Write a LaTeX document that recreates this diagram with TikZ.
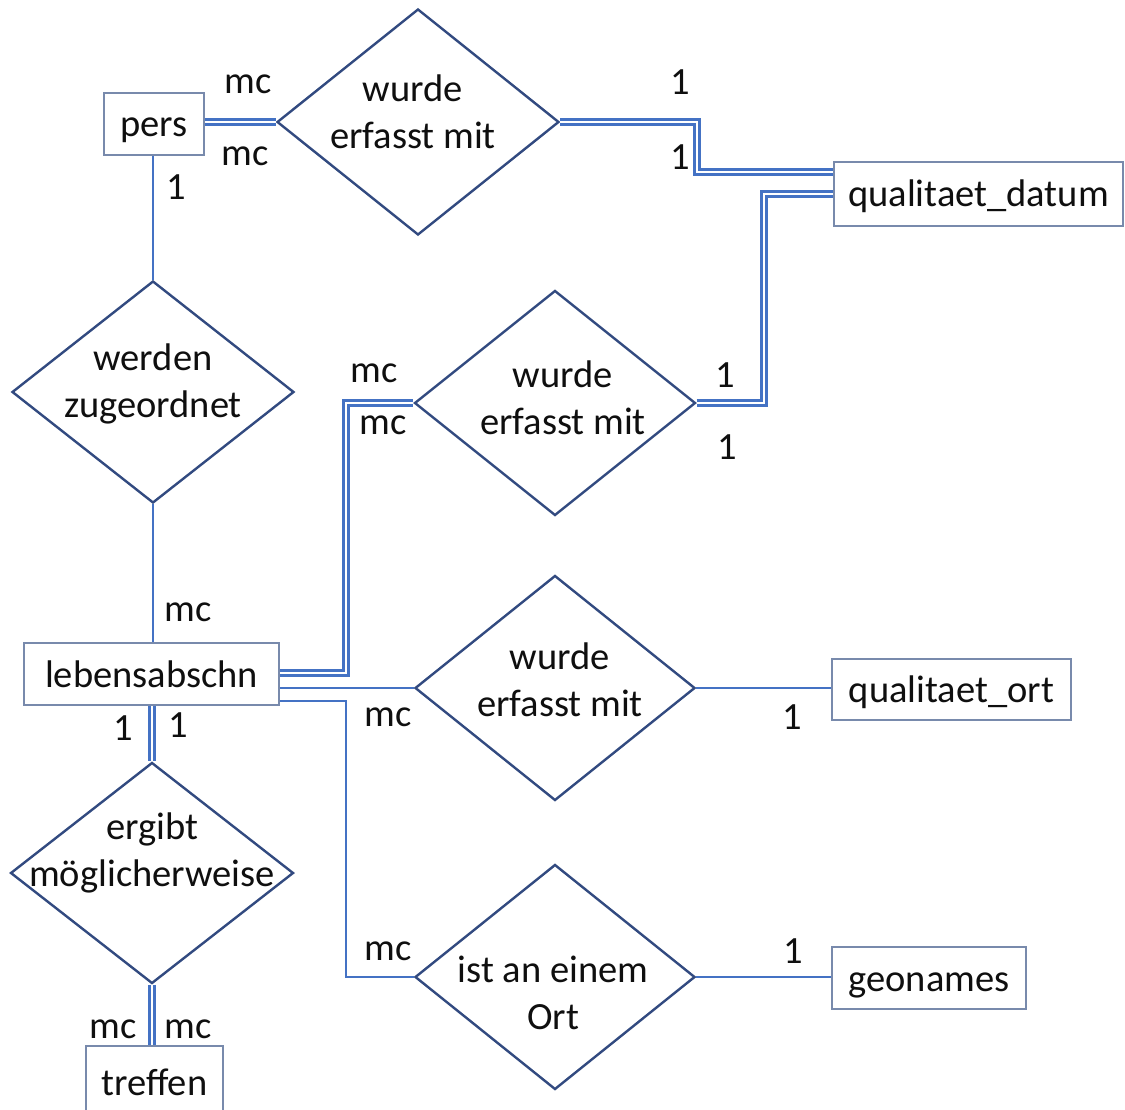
\documentclass[tikz,border=0pt]{standalone}
\usepackage{fontspec}
\setmainfont{Carlito}
\usetikzlibrary{shapes.geometric}
\definecolor{linkblue}{RGB}{68,114,196}
\definecolor{relcol}{RGB}{50,74,128}
\definecolor{entcol}{RGB}{120,138,172}
\definecolor{txtcol}{RGB}{15,15,15}
\tikzset{
  bigfont/.style={font=\fontsize{38.5}{47}\selectfont, text=txtcol},
  ent/.style={draw=entcol, line width=1.8pt, fill=white, rectangle, inner sep=0pt, bigfont, text height=26pt, text depth=0pt},
  rel/.style={draw=relcol, line width=2.4pt, fill=white, diamond, inner sep=0pt},
  reltxt/.style={bigfont, align=center, inner sep=0pt},
  card/.style={bigfont, inner sep=0pt},
  dbl/.style={draw=linkblue, line width=2.5pt, double=white, double distance=2.8pt},
  sgl/.style={draw=linkblue, line width=2.5pt},
}
\begin{document}
\begin{tikzpicture}[x=1pt,y=-1pt]
\useasboundingbox (0,0) rectangle (1125,1110);
\clip (0,0) rectangle (1125,1110);
\fill[white] (0,0) rectangle (1125,1110);

% corner coordinates
\coordinate (k1) at (697,172);
\coordinate (k2) at (764,194);
\coordinate (k3) at (346,673);
\coordinate (k4) at (346,701);

% entities
\node[ent, minimum width=100, minimum height=62] (pers) at (154,124) {pers};
\node[ent, minimum width=289, minimum height=64] (qdat) at (978.5,194) {qualitaet\_datum};
\node[ent, minimum width=255, minimum height=62] (leb) at (151.5,674) {lebensabschn};
\node[ent, minimum width=239, minimum height=61] (qort) at (951.5,689.5) {qualitaet\_ort};
\node[ent, minimum width=194, minimum height=62] (geo) at (929,978) {geonames};
\node[ent, minimum width=137, minimum height=72] (tref) at (154.5,1082) {treffen};

% relationships
\node[rel, minimum width=282, minimum height=226] (d1) at (418,122) {};
\node[rel, minimum width=281, minimum height=225] (d2) at (555,403) {};
\node[rel, minimum width=280, minimum height=225] (d3) at (555,688) {};
\node[rel, minimum width=280, minimum height=225] (d4) at (555,977) {};
\node[rel, minimum width=282, minimum height=222] (dw) at (153,392) {};
\node[rel, minimum width=283, minimum height=221] (de) at (152,873) {};

% relationship texts
\node[reltxt] (t1) at (413,111.5) {wurde\\erfasst mit};
\node[reltxt] (t2) at (563,398) {wurde\\erfasst mit};
\node[reltxt] (t3) at (560,679.5) {wurde\\erfasst mit};
\node[reltxt] (t4) at (553,993) {ist an einem\\Ort};
\node[reltxt] (tw) at (153,384) {werden\\zugeordnet};
\node[reltxt] (te) at (152,853) {ergibt\\möglicherweise};

% connectors
\draw[dbl] (pers.east |- d1.west) -- (d1.west);
\draw[dbl] (d1.east) -| (k1) -- (qdat.west |- k1);
\draw[dbl] (d2.east) -| (k2) -- (qdat.west |- k2);
\draw[dbl] (leb.east |- k3) -- (k3) |- (d2.west);
\draw[sgl] (leb.east |- d3.west) -- (d3.west);
\draw[sgl] (leb.east |- k4) -- (k4) |- (d4.west);
\draw[sgl] (d3.east) -- (qort.west |- d3.east);
\draw[sgl] (d4.east) -- (geo.west |- d4.east);
\draw[sgl] (dw.north |- pers.south) -- (dw.north);
\draw[sgl] (dw.south) -- (dw.south |- leb.north);
\draw[dbl] (de.north |- leb.south) -- (de.north);
\draw[dbl] (de.south) -- (de.south |- tref.north);

% cardinalities
\node[card] (c1) at (248,84) {mc};
\node[card] (c2) at (245,156) {mc};
\node[card] (c3) at (176,187) {1};
\node[card] (c4) at (680,82) {1};
\node[card] (c5) at (680,157) {1};
\node[card] (c6) at (374,373) {mc};
\node[card] (c7) at (383,425) {mc};
\node[card] (c8) at (725,375) {1};
\node[card] (c9) at (727,447) {1};
\node[card] (c10) at (188,612) {mc};
\node[card] (c11) at (388,717) {mc};
\node[card] (c12) at (792,717) {1};
\node[card] (c13) at (388,951) {mc};
\node[card] (c14) at (793,951) {1};
\node[card] (c15) at (123,728) {1};
\node[card] (c16) at (178,725) {1};
\node[card] (c17) at (113,1029) {mc};
\node[card] (c18) at (188,1029) {mc};
\end{tikzpicture}
\end{document}
